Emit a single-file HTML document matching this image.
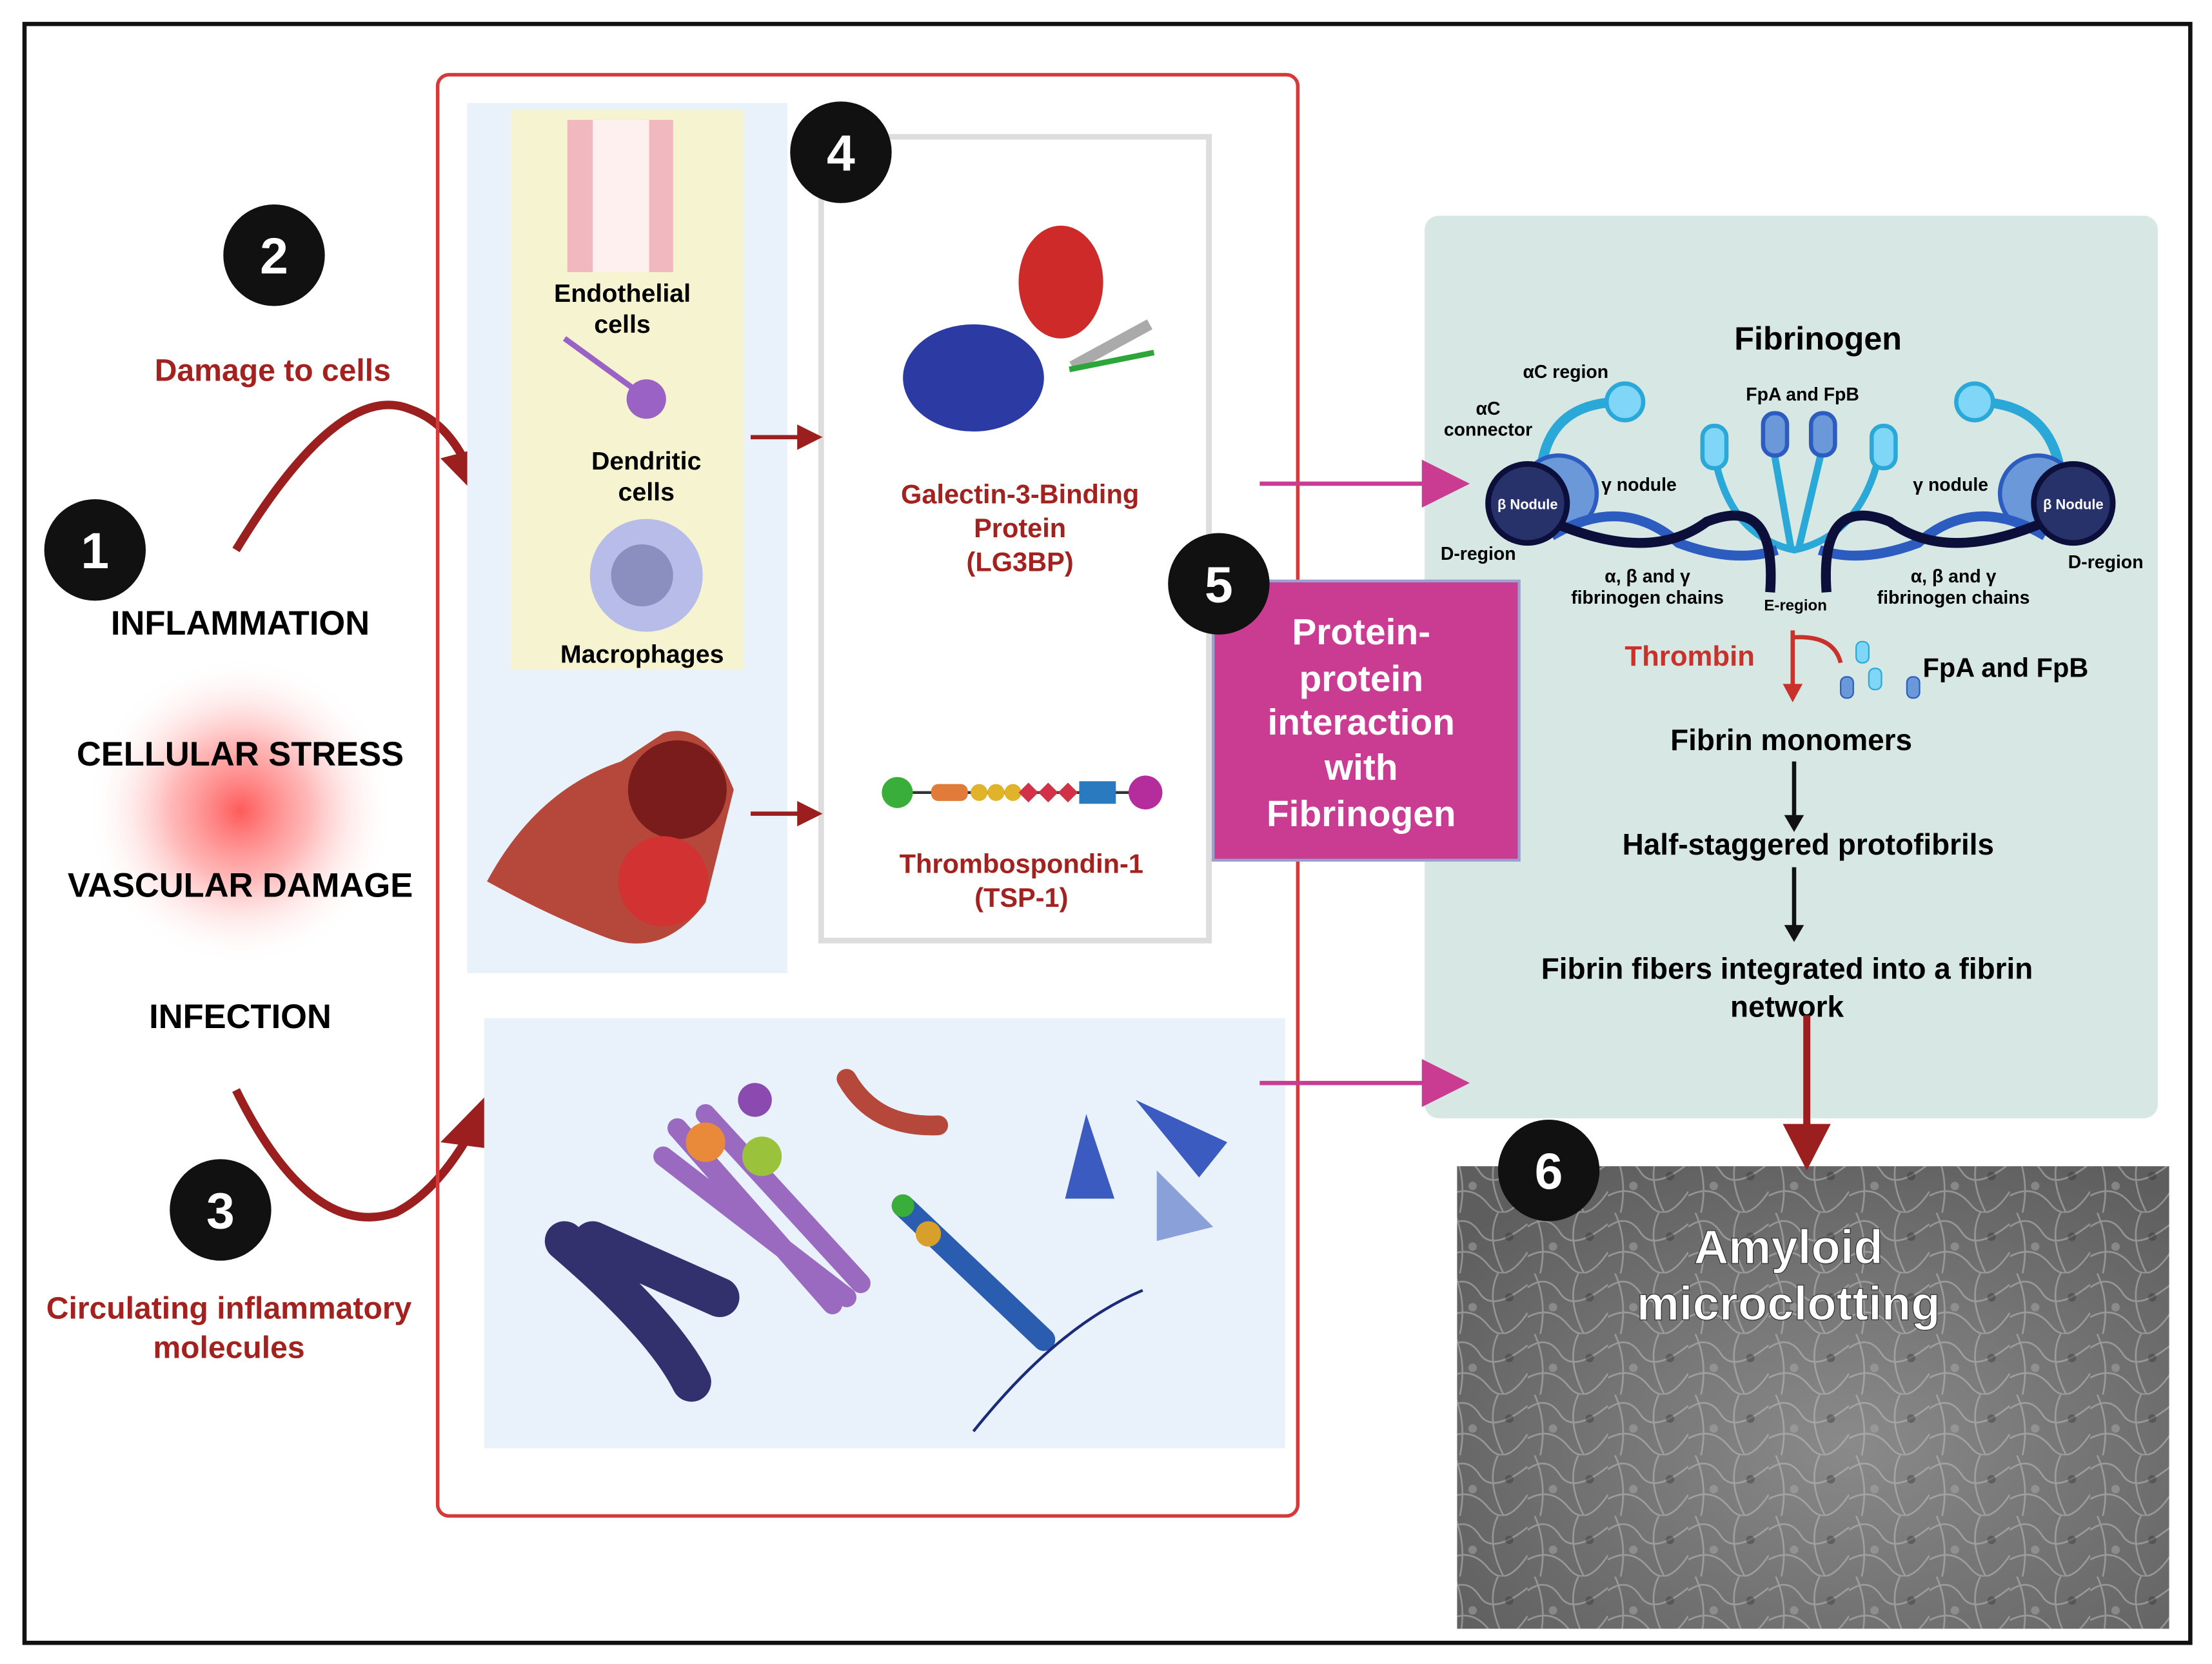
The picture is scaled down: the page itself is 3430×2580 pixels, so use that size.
<!DOCTYPE html>
<html><head><meta charset="utf-8"><style>html,body{margin:0;padding:0;background:#fff}svg{display:block}text{font-family:"Liberation Sans",sans-serif;font-weight:bold}</style></head><body>
<svg width="3430" height="2580" viewBox="0 0 1568 1180" xmlns="http://www.w3.org/2000/svg">
<defs>
<radialGradient id="glow" cx="0.5" cy="0.5" r="0.5"><stop offset="0" stop-color="#ff5a5a"/><stop offset="0.45" stop-color="#ff9a9a" stop-opacity="0.7"/><stop offset="1" stop-color="#fff" stop-opacity="0"/></radialGradient>
<radialGradient id="semg" cx="0.55" cy="0.6" r="0.7"><stop offset="0" stop-color="#8a8a8a"/><stop offset="1" stop-color="#5e5e5e"/></radialGradient>
<pattern id="sem" width="57" height="43" patternUnits="userSpaceOnUse"><path d="M0 10 Q14 0 23 14 T57 8 M0 31 Q17 22 29 37 T57 28 M5 0 Q14 20 9 43 M36 0 Q27 18 40 43" stroke="#c4c4c4" stroke-opacity="0.5" stroke-width="1.2" fill="none"/><circle cx="18" cy="24" r="3" fill="#aaa" fill-opacity="0.5"/><circle cx="44" cy="17" r="3" fill="#333" fill-opacity="0.4"/></pattern>
<marker id="ah" markerWidth="6" markerHeight="6" refX="3" refY="3" orient="auto"><path d="M0 0L6 3L0 6z" fill="#9b1f1f"/></marker>
</defs>
<rect x="17" y="17" width="1536" height="1148" fill="#fff" stroke="#111" stroke-width="3"/>
<!-- left column -->
<circle cx="170" cy="575" r="110" fill="url(#glow)"/>
<text x="170" y="450" font-size="24" text-anchor="middle">INFLAMMATION</text>
<text x="170" y="543" font-size="24" text-anchor="middle">CELLULAR STRESS</text>
<text x="170" y="636" font-size="24" text-anchor="middle">VASCULAR DAMAGE</text>
<text x="170" y="729" font-size="24" text-anchor="middle">INFECTION</text>
<text x="193" y="270" font-size="22" text-anchor="middle" fill="#a3221f">Damage to cells</text>
<text x="162" y="935" font-size="22" text-anchor="middle" fill="#a3221f">Circulating inflammatory</text>
<text x="162" y="963" font-size="22" text-anchor="middle" fill="#a3221f">molecules</text>
<path d="M167 390 Q240 270 290 290 Q320 300 335 340" stroke="#9b1f1f" stroke-width="6" fill="none"/>
<path d="M312 325 L356 370 L350 315 Z" fill="#9b1f1f"/>
<path d="M167 773 Q220 880 280 860 Q310 845 335 800" stroke="#9b1f1f" stroke-width="6" fill="none"/>
<path d="M312 810 L356 765 L350 815 Z" fill="#9b1f1f"/>
<!-- middle -->
<rect x="310" y="53" width="610" height="1022" rx="8" fill="none" stroke="#d43a3a" stroke-width="2.5"/>
<rect x="331" y="73" width="227" height="617" fill="#e9f1fb"/>
<rect x="362" y="78" width="165" height="397" fill="#f6f3d0"/>
<rect x="402" y="85" width="75" height="108" fill="#f2b8bf"/><rect x="420" y="85" width="40" height="108" fill="#fff0f0"/>
<text x="441" y="214" font-size="18" text-anchor="middle">Endothelial</text><text x="441" y="236" font-size="18" text-anchor="middle">cells</text>
<circle cx="458" cy="283" r="14" fill="#9a62c4"/><path d="M400 240 L455 280" stroke="#9a62c4" stroke-width="4"/>
<text x="458" y="333" font-size="18" text-anchor="middle">Dendritic</text><text x="458" y="355" font-size="18" text-anchor="middle">cells</text>
<circle cx="458" cy="408" r="40" fill="#b7bde8"/><circle cx="455" cy="408" r="22" fill="#8b8fc0"/>
<text x="455" y="470" font-size="18" text-anchor="middle">Macrophages</text>
<path d="M345 625 Q380 560 440 540 L470 520 Q500 510 520 560 L500 640 Q470 680 430 665 Q390 650 345 625Z" fill="#b5483b"/>
<circle cx="480" cy="560" r="35" fill="#7a1c1c"/><circle cx="470" cy="625" r="32" fill="#d23232"/>
<rect x="582" y="97" width="275" height="570" fill="#fff" stroke="#ddd" stroke-width="4"/>
<ellipse cx="690" cy="268" rx="50" ry="38" fill="#2c3aa3"/><ellipse cx="752" cy="200" rx="30" ry="40" fill="#cf2a2a"/><path d="M760 260 L815 230" stroke="#aaa" stroke-width="8"/><path d="M758 262 L818 250" stroke="#2ca53a" stroke-width="4"/>
<text x="723" y="357" font-size="19" text-anchor="middle" fill="#a3221f">Galectin-3-Binding</text>
<text x="723" y="381" font-size="19" text-anchor="middle" fill="#a3221f">Protein</text>
<text x="723" y="405" font-size="19" text-anchor="middle" fill="#a3221f">(LG3BP)</text>
<line x1="645" y1="562" x2="805" y2="562" stroke="#333" stroke-width="2"/>
<circle cx="636" cy="562" r="11" fill="#3aae3a"/><rect x="660" y="556" width="26" height="12" rx="5" fill="#e17b3a"/>
<circle cx="694" cy="562" r="6" fill="#e0b32a"/><circle cx="706" cy="562" r="6" fill="#e0b32a"/><circle cx="718" cy="562" r="6" fill="#e0b32a"/>
<path d="M722 562l7-7 7 7-7 7zM736 562l7-7 7 7-7 7zM750 562l7-7 7 7-7 7z" fill="#d23247"/><rect x="765" y="554" width="26" height="16" fill="#2a7ac0"/>
<circle cx="812" cy="562" r="12" fill="#b52d9c"/>
<text x="724" y="619" font-size="19" text-anchor="middle" fill="#a3221f">Thrombospondin-1</text>
<text x="724" y="643" font-size="19" text-anchor="middle" fill="#a3221f">(TSP-1)</text>
<line x1="532" y1="310" x2="574" y2="310" stroke="#9b1f1f" stroke-width="3" marker-end="url(#ah)"/>
<line x1="532" y1="577" x2="574" y2="577" stroke="#9b1f1f" stroke-width="3" marker-end="url(#ah)"/>
<rect x="343" y="722" width="568" height="305" fill="#e9f1fb"/>
<path d="M420 880 L510 920 M400 880 Q470 940 490 980" stroke="#33306e" stroke-width="28" stroke-linecap="round" fill="none"/>
<path d="M470 820 L600 920 M480 800 L590 925 M500 790 L610 910" stroke="#9a6ac0" stroke-width="14" stroke-linecap="round"/>
<circle cx="535" cy="780" r="12" fill="#8a4ab0"/><circle cx="540" cy="820" r="14" fill="#9ac23a"/><circle cx="500" cy="810" r="14" fill="#e88a3a"/>
<path d="M600 765 Q620 800 665 798" stroke="#b5483b" stroke-width="14" stroke-linecap="round" fill="none"/>
<path d="M640 855 L740 950" stroke="#2a5db0" stroke-width="16" stroke-linecap="round"/><circle cx="640" cy="855" r="8" fill="#3aae3a"/><circle cx="658" cy="875" r="9" fill="#d8a02a"/>
<path d="M690 1015 Q750 940 810 915" stroke="#1c2a7a" stroke-width="2" fill="none"/>
<path d="M770 790 L755 850 L790 850Z M805 780 L870 810 L850 835Z" fill="#3c5bc0"/><path d="M820 830 L820 880 L860 870Z" fill="#8aa0d8"/>
<!-- right panel -->
<rect x="1010" y="153" width="520" height="640" rx="10" fill="#d7e7e3"/>
<path d="M893 343 L1010 343" stroke="#c93c92" stroke-width="3"/><path d="M1008 326 L1042 343 L1008 360Z" fill="#c93c92"/>
<path d="M893 768 L1010 768" stroke="#c93c92" stroke-width="3"/><path d="M1008 751 L1042 768 L1008 785Z" fill="#c93c92"/>
<text x="1289" y="248" font-size="23" text-anchor="middle">Fibrinogen</text>
<g font-size="13" text-anchor="middle"><text x="1110" y="268">αC region</text><text x="1055" y="294">αC</text><text x="1055" y="309">connector</text><text x="1278" y="284">FpA and FpB</text><text x="1162" y="348">γ nodule</text><text x="1383" y="348">γ nodule</text><text x="1048" y="397">D-region</text><text x="1493" y="403">D-region</text><text x="1168" y="413">α, β and γ</text><text x="1168" y="428">fibrinogen chains</text><text x="1385" y="413">α, β and γ</text><text x="1385" y="428">fibrinogen chains</text><text x="1273" y="433" font-size="11">E-region</text></g>
<path d="M1093 330 Q1100 285 1150 285 M1460 330 Q1450 285 1400 285" stroke="#2aa8d8" stroke-width="7" fill="none"/>
<circle cx="1152" cy="285" r="13" fill="#7fd6f7" stroke="#2aa8d8" stroke-width="3"/><circle cx="1400" cy="285" r="13" fill="#7fd6f7" stroke="#2aa8d8" stroke-width="3"/>
<path d="M1215 320 Q1225 380 1272 390 Q1320 380 1333 320 M1255 305 L1270 390 M1295 305 L1275 390" stroke="#2aa8d8" stroke-width="5" fill="none"/>
<rect x="1207" y="302" width="17" height="30" rx="8" fill="#7fd6f7" stroke="#2aa8d8" stroke-width="3"/><rect x="1327" y="302" width="17" height="30" rx="8" fill="#7fd6f7" stroke="#2aa8d8" stroke-width="3"/>
<rect x="1250" y="293" width="17" height="30" rx="8" fill="#6a98d8" stroke="#2d5cc0" stroke-width="3"/><rect x="1284" y="293" width="17" height="30" rx="8" fill="#6a98d8" stroke="#2d5cc0" stroke-width="3"/>
<circle cx="1105" cy="350" r="27" fill="#6a98d8" stroke="#2d5cc0" stroke-width="3"/><circle cx="1445" cy="350" r="27" fill="#6a98d8" stroke="#2d5cc0" stroke-width="3"/>
<path d="M1100 380 Q1150 350 1190 385 Q1230 400 1260 390 M1450 380 Q1400 350 1360 385 Q1320 400 1290 390" stroke="#2d5cc0" stroke-width="7" fill="none"/>
<path d="M1100 370 Q1170 400 1210 370 Q1260 350 1255 420 M1450 370 Q1380 400 1340 370 Q1290 350 1295 420" stroke="#0c0f3a" stroke-width="7" fill="none"/>
<circle cx="1083" cy="357" r="28" fill="#27326b" stroke="#0c0f3a" stroke-width="4"/><circle cx="1470" cy="357" r="28" fill="#27326b" stroke="#0c0f3a" stroke-width="4"/>
<text x="1083" y="361" font-size="10" fill="#fff" text-anchor="middle">β Nodule</text><text x="1470" y="361" font-size="10" fill="#fff" text-anchor="middle">β Nodule</text>
<text x="1198" y="472" font-size="20" fill="#c8322b" text-anchor="middle">Thrombin</text>
<path d="M1271 447 L1271 490 M1271 452 Q1300 450 1305 470" stroke="#c8322b" stroke-width="3" fill="none"/><path d="M1264 485 L1271 498 L1278 485Z" fill="#c8322b"/>
<rect x="1316" y="455" width="9" height="15" rx="4" fill="#7fd6f7" stroke="#2aa8d8"/><rect x="1325" y="474" width="9" height="15" rx="4" fill="#7fd6f7" stroke="#2aa8d8"/><rect x="1305" y="480" width="9" height="15" rx="4" fill="#6a98d8" stroke="#2d5cc0"/><rect x="1352" y="480" width="9" height="15" rx="4" fill="#6a98d8" stroke="#2d5cc0"/>
<text x="1422" y="480" font-size="19" text-anchor="middle">FpA and FpB</text>
<text x="1270" y="532" font-size="21" text-anchor="middle">Fibrin monomers</text>
<text x="1282" y="606" font-size="21" text-anchor="middle">Half-staggered protofibrils</text>
<text x="1267" y="694" font-size="21" text-anchor="middle">Fibrin fibers integrated into a fibrin</text>
<text x="1267" y="721" font-size="21" text-anchor="middle">network</text>
<line x1="1272" y1="540" x2="1272" y2="580" stroke="#111" stroke-width="3"/><path d="M1265 578 L1272 590 L1279 578Z" fill="#111"/>
<line x1="1272" y1="615" x2="1272" y2="658" stroke="#111" stroke-width="3"/><path d="M1265 656 L1272 668 L1279 656Z" fill="#111"/>
<!-- magenta (on top) -->
<rect x="860" y="412" width="217" height="198" fill="#c93c92" stroke="#9aa0d0" stroke-width="2"/>
<text font-size="26" fill="#fff" text-anchor="middle"><tspan x="965" y="457">Protein-</tspan><tspan x="965" y="490">protein</tspan><tspan x="965" y="521">interaction</tspan><tspan x="965" y="553">with</tspan><tspan x="965" y="586">Fibrinogen</tspan></text>
<!-- SEM -->
<rect x="1033" y="827" width="505" height="328" fill="url(#semg)"/>
<rect x="1033" y="827" width="505" height="328" fill="url(#sem)"/>
<line x1="1281" y1="720" x2="1281" y2="800" stroke="#9b1f1f" stroke-width="5"/><path d="M1264 797 L1281 830 L1298 797Z" fill="#9b1f1f"/>
<text x="1268" y="896" font-size="34" fill="#fff" text-anchor="middle" stroke="#333" stroke-width="0.6">Amyloid</text>
<text x="1268" y="936" font-size="34" fill="#fff" text-anchor="middle" stroke="#333" stroke-width="0.6">microclotting</text>
<!-- numbers -->
<g font-size="36" fill="#fff" text-anchor="middle">
<circle cx="67" cy="390" r="36" fill="#111"/><text x="67" y="403">1</text>
<circle cx="194" cy="181" r="36" fill="#111"/><text x="194" y="194">2</text>
<circle cx="156" cy="858" r="36" fill="#111"/><text x="156" y="871">3</text>
<circle cx="596" cy="108" r="36" fill="#111"/><text x="596" y="121">4</text>
<circle cx="864" cy="414" r="36" fill="#111"/><text x="864" y="427">5</text>
<circle cx="1098" cy="830" r="36" fill="#111"/><text x="1098" y="843">6</text>
</g>
</svg>
</body></html>
